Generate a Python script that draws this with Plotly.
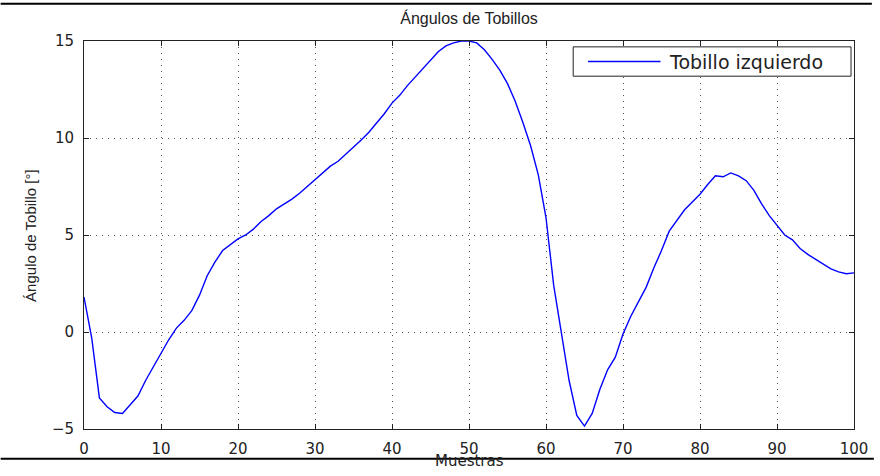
import plotly.graph_objects as go

# muestras (0..100) y angulo del tobillo izquierdo en grados
muestras = list(range(101))
tobillo_izq = [
    1.8, -0.3, -3.4, -3.85, -4.15, -4.2, -3.75, -3.3, -2.5, -1.8,
    -1.1, -0.4, 0.2, 0.6, 1.1, 1.9, 2.9, 3.6, 4.2, 4.5,
    4.8, 5.0, 5.3, 5.7, 6.0, 6.35, 6.6, 6.85, 7.15, 7.5,
    7.85, 8.2, 8.55, 8.8, 9.15, 9.5, 9.9, 10.3, 10.75, 11.25,
    11.8, 12.2, 12.7, 13.15, 13.6, 14.0, 14.45, 14.75, 14.9, 15.0,
    15.0, 14.9, 14.55, 14.05, 13.5, 12.8, 11.9, 10.8, 9.6, 8.1,
    5.9, 2.4, -0.05, -2.5, -4.3, -4.85, -4.2, -2.95, -1.95, -1.3,
    -0.1, 0.8, 1.55, 2.3, 3.3, 4.2, 5.2, 5.75, 6.3, 6.7,
    7.1, 7.6, 8.05, 8.0, 8.2, 8.05, 7.8, 7.3, 6.6, 6.0,
    5.5, 5.0, 4.75, 4.3, 4.0, 3.75, 3.5, 3.25, 3.1, 3.0,
    3.05,
]
x_ticks = list(range(0, 101, 10))
y_ticks = [-5, 0, 5, 10, 15]

W, H = 880, 470
L, R, T, B = 84, 860, 41, 438   # caja de ejes en pixeles


def px(x):
    return (x - L) / (R - L)


def py(y):
    return (B - y) / (B - T)


fig = go.Figure()
fig.add_trace(go.Scatter(x=muestras, y=tobillo_izq, mode="lines", name="Tobillo izquierdo",
                         line=dict(color="#0000ff", width=1.4), showlegend=False))

axis_common = dict(showline=True, linecolor="#222", linewidth=1, mirror="ticks",
                   ticks="inside", ticklen=5, tickcolor="#222", tickwidth=1,
                   showgrid=True, gridcolor="#555", gridwidth=1, griddash="1px,5px",
                   zeroline=False, ticklabelstandoff=6,
                   tickfont=dict(family="DejaVu Sans", size=15, color="#222"))

fig.update_xaxes(range=[0, 100], tickvals=x_ticks, **axis_common)
fig.update_yaxes(range=[-5, 15], tickvals=y_ticks, **axis_common)

fig.update_layout(
    width=W, height=H,
    margin=dict(l=L, r=W - R, t=T, b=H - B),
    paper_bgcolor="white", plot_bgcolor="white",
    title=dict(text="Ángulos de Tobillos", x=0.5, xref="paper", xanchor="center",
               y=1 - 18 / H, yref="container", yanchor="middle",
               font=dict(family="Liberation Sans", size=16, color="#222")),
)

# etiquetas de ejes (Muestras queda cortada por el borde de la captura, como en el original)
fig.add_annotation(text="Muestras", xref="paper", yref="paper", x=px(472), y=py(459),
                   xanchor="center", yanchor="top", showarrow=False,
                   font=dict(family="DejaVu Sans", size=15, color="#222"))
fig.add_annotation(text="Ángulo de Tobillo [°]", xref="paper", yref="paper", x=px(30), y=py(240),
                   xanchor="center", yanchor="middle", textangle=-90, showarrow=False,
                   font=dict(family="Liberation Sans", size=15, color="#222"))

# leyenda
fig.add_shape(type="rect", xref="paper", yref="paper", x0=px(577), x1=px(857), y0=py(47), y1=py(77),
              line=dict(color="#222", width=1), fillcolor="white", layer="above")
fig.add_shape(type="line", xref="paper", yref="paper", x0=px(592), x1=px(665), y0=py(62), y1=py(62),
              line=dict(color="#0000ff", width=1.4), layer="above")
fig.add_annotation(text="Tobillo izquierdo", xref="paper", yref="paper", x=px(672), y=py(62),
                   xanchor="left", yanchor="middle", showarrow=False,
                   font=dict(family="DejaVu Sans", size=19, color="#222"))

# marco de la captura
fig.add_shape(type="line", xref="paper", yref="paper", x0=px(0), x1=px(878), y0=py(3), y1=py(3),
              line=dict(color="black", width=2))
fig.add_shape(type="line", xref="paper", yref="paper", x0=px(0), x1=px(880), y0=py(468.5), y1=py(468.5),
              line=dict(color="black", width=2))

post = """
document.body.style.margin = '0';
var gd = document.getElementsByClassName('plotly-graph-div')[0];
gd.style.overflow = 'hidden';
"""
fig.write_html("out.html", config={"displayModeBar": False}, post_script=post)
